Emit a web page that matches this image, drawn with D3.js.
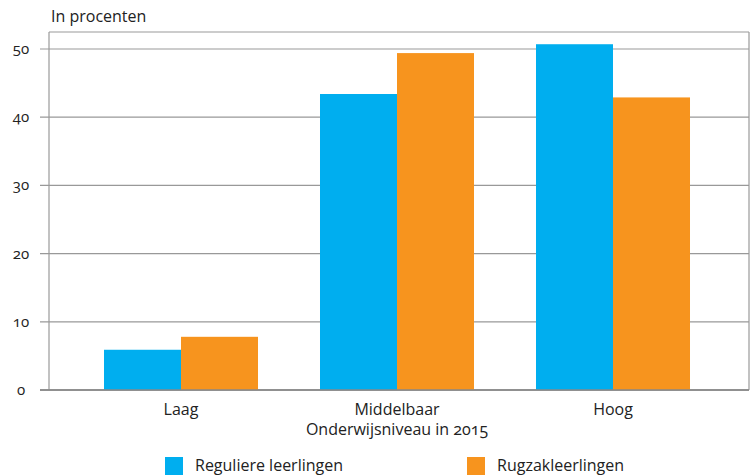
<!DOCTYPE html>
<html><head><meta charset="utf-8">
<script src="https://cdn.jsdelivr.net/npm/d3@7"></script>
<style>
body{margin:0;background:#fff;}
text{font-family:"Open Sans","Noto Sans",sans-serif;fill:#222;}
</style></head>
<body><svg id="c" width="755" height="476"></svg>
<script>
const categories = ["Laag", "Middelbaar", "Hoog"];
const seriesNames = ["Reguliere leerlingen", "Rugzakleerlingen"];
const regulier = [5.9, 43.4, 50.7];
const rugzak = [7.8, 49.4, 42.9];
const yTicks = [0, 10, 20, 30, 40, 50];
const colors = ["#00AEEF", "#F7941E"];

const svg = d3.select("#c");
const pL = 49, pR = 749, pT = 32, pB = 390;
const y = d3.scaleLinear().domain([0, 50]).range([pB, 49]);
const x = d3.scaleBand().domain(categories).range([73, 721]).paddingInner(0.287).paddingOuter(0.1435);
const xs = d3.scaleBand().domain(seriesNames).range([0, x.bandwidth()]);

const g = svg.append("g");
g.selectAll("line.grid").data(yTicks).join("line")
  .attr("x1", 40).attr("x2", pR).attr("y1", d => y(d)).attr("y2", d => y(d))
  .attr("stroke", d => d === 0 ? "#888" : "#999").attr("stroke-width", d => d === 0 ? 1.5 : 1.2);
g.append("line").attr("x1", pL).attr("x2", pL).attr("y1", pT).attr("y2", pB).attr("stroke", "#999").attr("stroke-width", 1.2);
g.append("line").attr("x1", pL).attr("x2", pR).attr("y1", pT).attr("y2", pT).attr("stroke", "#999").attr("stroke-width", 1.2);
g.append("line").attr("x1", pR).attr("x2", pR).attr("y1", pT).attr("y2", pB).attr("stroke", "#999").attr("stroke-width", 1.2);

g.selectAll("text.yt").data(yTicks).join("text")
  .attr("x", 21).attr("y", d => y(d) + 5).attr("text-anchor", "middle")
  .attr("font-size", 15).style("font-variant-numeric", "oldstyle-nums").text(d => d);

const data = categories.map((c, i) => ({c, vals: [regulier[i], rugzak[i]]}));
const bg = svg.append("g").selectAll("g").data(data).join("g").attr("transform", d => `translate(${x(d.c)},0)`);
bg.selectAll("rect").data(d => d.vals.map((v, j) => ({s: seriesNames[j], v, j}))).join("rect")
  .attr("x", d => xs(d.s)).attr("width", xs.bandwidth())
  .attr("y", d => y(d.v)).attr("height", d => pB - y(d.v))
  .attr("fill", d => colors[d.j]);

svg.append("line").attr("x1", 40).attr("x2", pR).attr("y1", pB).attr("y2", pB).attr("stroke", "#888").attr("stroke-width", 1.5);

svg.selectAll("text.xl").data(categories).join("text")
  .attr("x", d => x(d) + x.bandwidth() / 2).attr("y", 415).attr("text-anchor", "middle")
  .attr("font-size", 16).text(d => d);
svg.append("text").attr("x", x("Middelbaar") + x.bandwidth() / 2).attr("y", 435).attr("text-anchor", "middle")
  .attr("font-size", 16).style("font-variant-numeric", "oldstyle-nums").text("Onderwijsniveau in 2015");

svg.append("text").attr("x", 51).attr("y", 22).attr("font-size", 16).text("In procenten");

const legX = [165, 467];
const lg = svg.selectAll("g.leg").data(seriesNames).join("g").attr("transform", (d, i) => `translate(${legX[i]},457)`);
lg.append("rect").attr("width", 18).attr("height", 18).attr("fill", (d, i) => colors[i]);
lg.append("text").attr("x", 30).attr("y", 14).attr("font-size", 16).text(d => d);
</script></body></html>
